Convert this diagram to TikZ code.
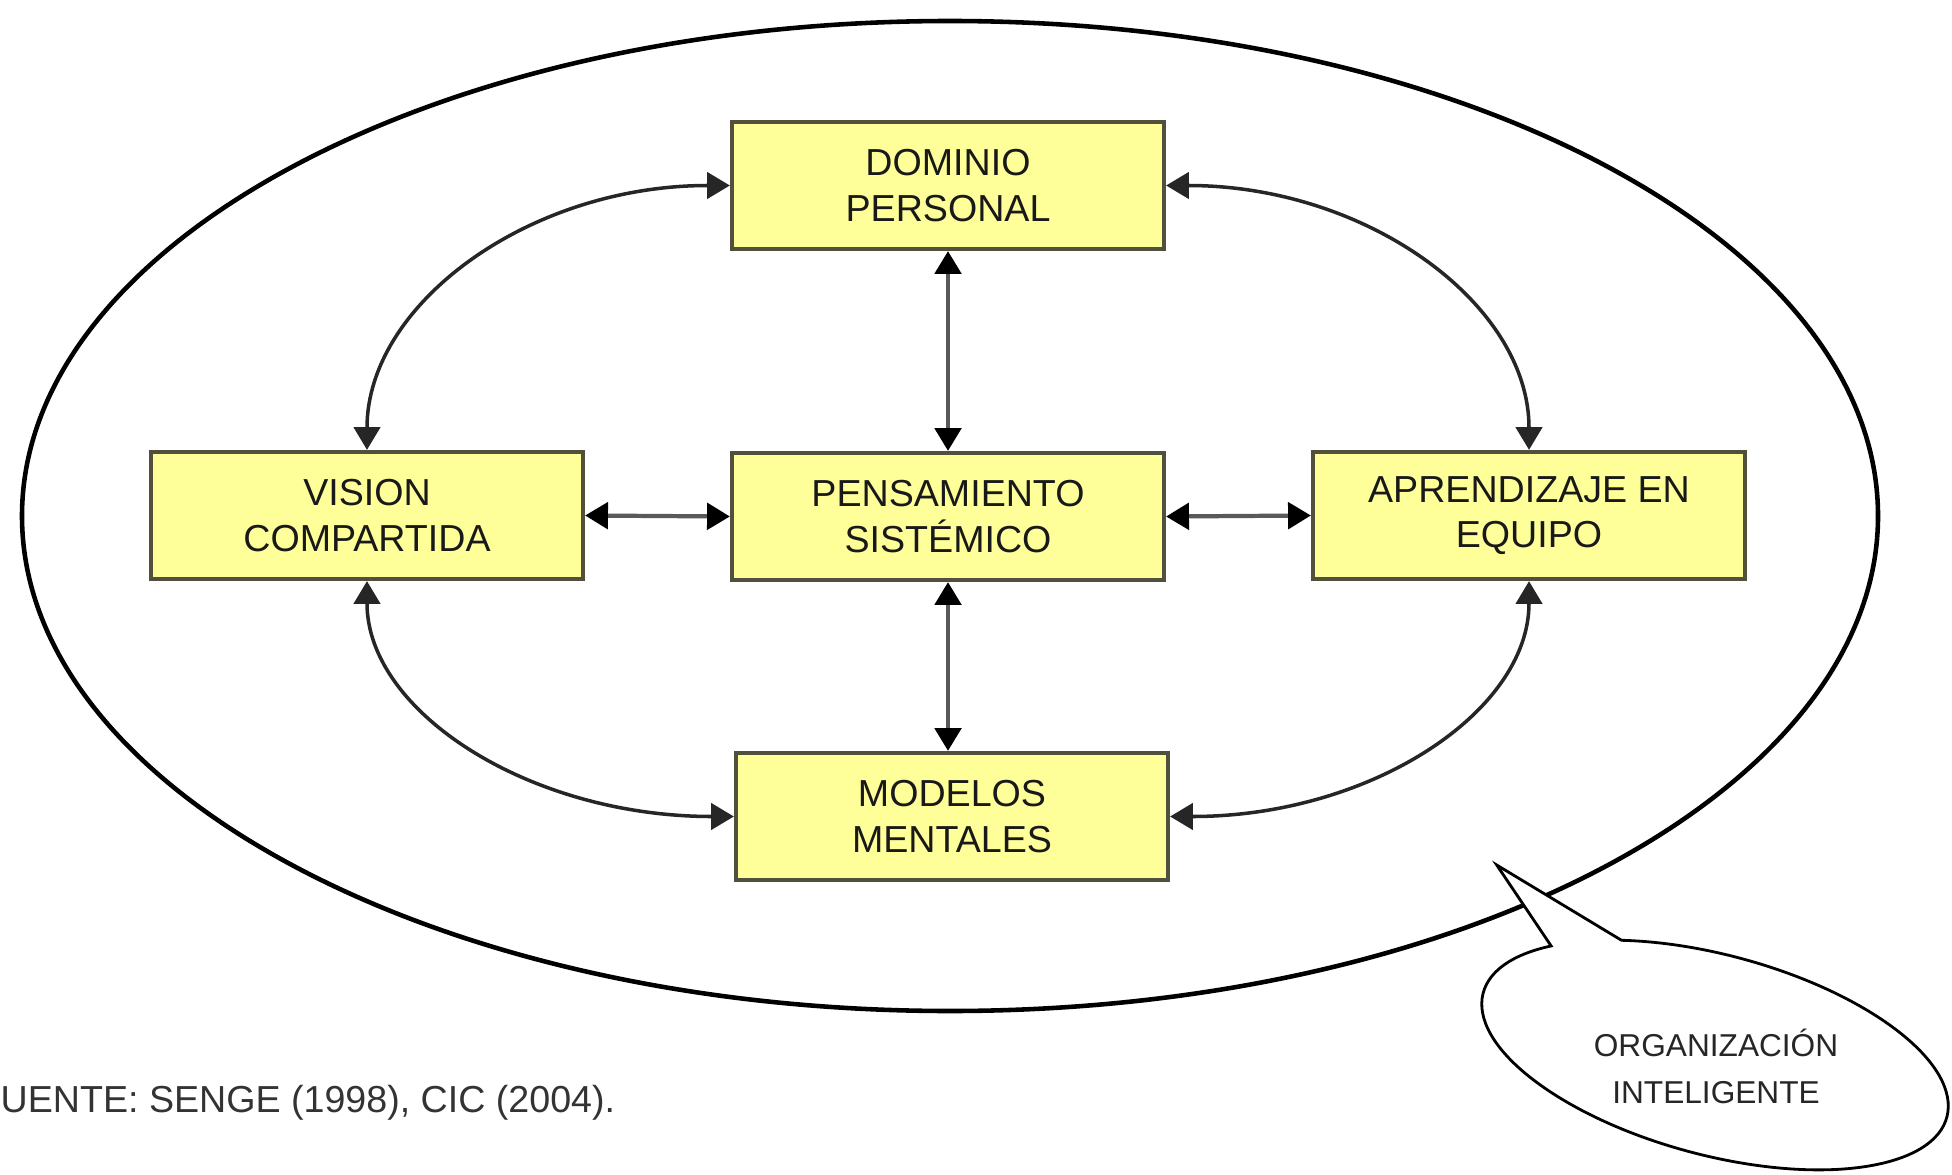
\documentclass[tikz,border=0pt]{standalone}
\usepackage{fontspec}
\setmainfont{Liberation Sans}
\usetikzlibrary{arrows.meta}
\definecolor{boxfill}{RGB}{255,255,153}
\definecolor{boxline}{RGB}{80,80,60}

\begin{document}
\begin{tikzpicture}[
  disc/.style={draw=boxline, line width=1.2pt, fill=boxfill, text=black!90,
    minimum width=4.32cm, minimum height=1.27cm, align=center, inner sep=2pt,
    font=\fontsize{10.7}{13}\selectfont},
  link/.style={{Triangle[length=6.5pt,width=7.5pt]}-{Triangle[length=6.5pt,width=7.5pt]}, line width=1pt, black!85},
  bar/.style={{Triangle[length=6.5pt,width=7.5pt,color=black]}-{Triangle[length=6.5pt,width=7.5pt,color=black]}, line width=1.2pt, black!65}
]
\useasboundingbox (0,0) rectangle (19.52,11.74);

% organizacion (outer ellipse)
\draw[line width=1.3pt] (9.50,6.58) ellipse (9.28 and 4.95);

% five disciplines
\node[disc] (dp) at (9.48,9.885) {DOMINIO\\PERSONAL};
\node[disc] (vc) at (3.67,6.585) {VISION\\COMPARTIDA};
\node[disc] (ps) at (9.48,6.575) {PENSAMIENTO\\SISTÉMICO};
\node[disc] (ae) at (15.29,6.585) {APRENDIZAJE EN\\EQUIPO};
\node[disc] (mm) at (9.52,3.575) {MODELOS\\MENTALES};

% straight links
\draw[bar] (dp.south) -- (ps.north);
\draw[bar] (ps.south) -- (ps.south |- mm.north);
\draw[bar] (vc.east) -- (ps.west);
\draw[bar] (ps.east) -- (ae.west);

% curved links
\draw[link] (vc.north) .. controls +(0,1.46) and +(-2.01,0) .. (dp.west);
\draw[link] (dp.east) .. controls +(2.01,0) and +(0,1.46) .. (ae.north);
\draw[link] (vc.south) .. controls +(0,-1.31) and +(-2.04,0) .. (mm.west);
\draw[link] (ae.south) .. controls +(0,-1.31) and +(2.0,0) .. (mm.east);

% callout
\begin{scope}[shift={(17.15,1.19)}, rotate=-15]
  \coordinate (ptr) at (-2.60,1.27);
  \draw[line width=0.8pt, fill=white] (141:2.4 and 1.0)
    arc[start angle=141, end angle=480, x radius=2.4, y radius=1.0]
    -- (ptr) -- cycle;
\end{scope}
\node[align=center, text=black!85, font=\fontsize{9}{13.4}\selectfont] (org) at (17.16,1.08) {ORGANIZACIÓN\\INTELIGENTE};

% source
\node[anchor=base west, inner sep=0pt, text=black!80, font=\fontsize{10.7}{13}\selectfont] (src) at (0,0.62) {UENTE: SENGE (1998), CIC (2004).};
\end{tikzpicture}
\end{document}
